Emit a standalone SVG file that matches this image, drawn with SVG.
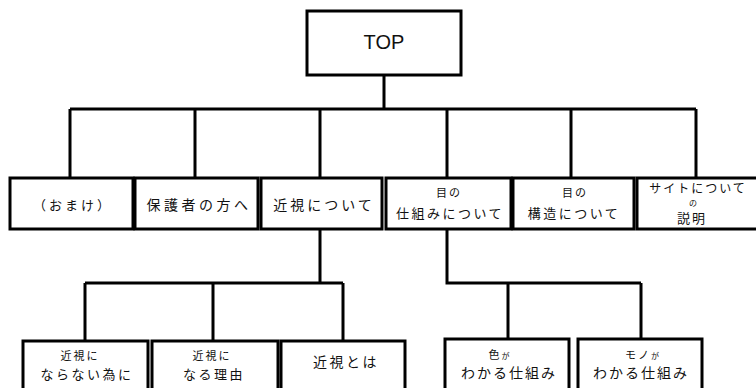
<svg xmlns="http://www.w3.org/2000/svg" width="756" height="388" viewBox="0 0 756 388">
<style>
.box{fill:#fff;stroke:#000;stroke-width:3}
.con{fill:none;stroke:#000;stroke-width:3}
text{font-family:"Noto Sans CJK JP","Noto Sans",sans-serif;fill:#111;text-anchor:middle}
.t2{font-size:13px;letter-spacing:3px}
.t3{font-size:13px;letter-spacing:2.5px}
.sm{font-size:11px;letter-spacing:2px}
</style>
<rect width="756" height="388" fill="#fff"/>
<g id="connectors">
<path class="con" d="M384 75V109M70 109H696M70 109V178M195 109V178M320 109V178M447 109V178M571 109V178M696 109V178"/>
<path class="con" d="M320 229V283M85 283H343M85 283V341M213 283V341M343 283V341"/>
<path class="con" d="M447 229V283H641M508 283V339M641 283V339"/>
</g>
<g id="top"><rect class="box" x="307" y="11" width="154" height="64"/><text x="384" y="49" style="font-family:'Liberation Sans',sans-serif;font-size:20px">TOP</text></g>
<g id="omake"><rect class="box" x="10" y="178" width="123" height="51"/><text class="t2" x="73" y="210">（おまけ）</text></g>
<g id="hogosha"><rect class="box" x="135" y="178" width="123" height="51"/><text class="t2" x="199" y="210" style="font-size:14px;letter-spacing:3.5px">保護者の方へ</text></g>
<g id="kinshi"><rect class="box" x="261" y="178" width="121" height="51"/><text class="t2" x="324" y="210" style="font-size:14px">近視について</text></g>
<g id="shikumi"><rect class="box" x="386" y="178" width="125" height="51"/><text class="sm" x="449" y="197">目の</text><text class="t3" x="450" y="218">仕組みについて</text></g>
<g id="kouzou"><rect class="box" x="513" y="178" width="121" height="51"/><text class="sm" x="575" y="197">目の</text><text class="t3" x="574" y="218">構造について</text></g>
<g id="site"><rect class="box" x="637" y="178" width="125" height="51"/><text x="698" y="193" style="font-size:12px;letter-spacing:2px">サイトについて</text><text x="693" y="206" style="font-size:8px">の</text><text x="692" y="223" style="font-size:13px;letter-spacing:2px">説明</text></g>
<g id="naranai"><rect class="box" x="23" y="341" width="125" height="60"/><text class="sm" x="80" y="360">近視に</text><text class="t3" x="87" y="379">ならない為に</text></g>
<g id="naru"><rect class="box" x="152" y="341" width="126" height="60"/><text class="sm" x="212" y="360">近視に</text><text class="t3" x="214" y="379">なる理由</text></g>
<g id="towa"><rect class="box" x="281" y="341" width="124" height="60"/><text class="t3" x="346" y="367" style="font-size:14px">近視とは</text></g>
<g id="iro"><rect class="box" x="445" y="339" width="124" height="62"/><text class="sm" x="500" y="359">色<tspan style="font-size:8px">が</tspan></text><text class="t3" x="509" y="378" style="font-size:14px;letter-spacing:2px">わかる仕組み</text></g>
<g id="mono"><rect class="box" x="578" y="339" width="124" height="62"/><text class="sm" x="643" y="359">モノ<tspan style="font-size:8px">が</tspan></text><text class="t3" x="641" y="378" style="font-size:14px;letter-spacing:2px">わかる仕組み</text></g>
</svg>
